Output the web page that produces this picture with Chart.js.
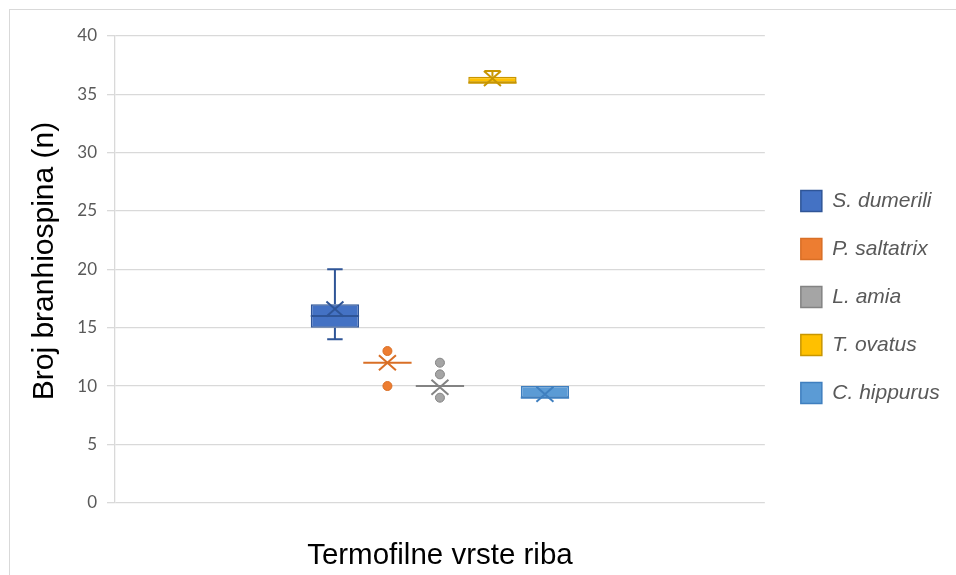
<!DOCTYPE html>
<html><head><meta charset="utf-8">
<script src="https://cdn.jsdelivr.net/npm/chart.js@4/dist/chart.umd.min.js"></script>
<style>
html,body{margin:0;padding:0;background:#fff;}
#wrap{position:relative;width:956px;height:575px;overflow:hidden;background:#fff;}
#frame{position:absolute;left:9px;top:9px;width:1200px;height:1200px;border:1px solid #d9d9d9;box-sizing:border-box;}
#c{position:absolute;left:0;top:0;}
</style></head><body>
<div id="wrap"><div id="frame"></div><canvas id="c" width="956" height="575"></canvas></div>
<script>
const categories = ['S. dumerili', 'P. saltatrix', 'L. amia', 'T. ovatus', 'C. hippurus'];
const minValues = [14, 12, 10, 36, 9];
const q1Values = [15, 12, 10, 36, 9];
const medianValues = [16, 12, 10, 36, 9];
const q3Values = [17, 12, 10, 36.5, 10];
const maxValues = [20, 12, 10, 37, 10];
const meanValues = [16.6, 12, 9.9, 36.35, 9.3];
const outlierValues = [[], [13, 10], [12, 11, 9], [], []];
const yTicks = [0, 5, 10, 15, 20, 25, 30, 35, 40];
const xLabels = [''];
const xAxisTitle = 'Termofilne vrste riba';
const yAxisTitle = 'Broj branhiospina (n)';

const fillColors = ['#4472C4', '#ED7D31', '#A5A5A5', '#FFC000', '#5B9BD5'];
const lineColors = ['#2F5597', '#D96F26', '#838383', '#C89600', '#3F7FBF'];

const datasets = categories.map((name, i) => ({
  label: name,
  data: [[q1Values[i], q3Values[i]]],
  backgroundColor: fillColors[i],
  borderColor: lineColors[i],
  borderWidth: 1.5,
  borderSkipped: false,
  categoryPercentage: 0.404,
  barPercentage: 0.92
}));

const boxPlugin = {
  id: 'boxWhisker',
  afterDatasetsDraw(chart) {
    const ctx = chart.ctx;
    const ys = chart.scales.y;
    chart.data.datasets.forEach((ds, i) => {
      const el = chart.getDatasetMeta(i).data[0];
      if (!el) return;
      const x = el.x, w = el.width;
      const capHalf = w * 0.16;
      const yq1 = ys.getPixelForValue(q1Values[i]);
      const yq3 = ys.getPixelForValue(q3Values[i]);
      const ymin = ys.getPixelForValue(minValues[i]);
      const ymax = ys.getPixelForValue(maxValues[i]);
      const ymed = ys.getPixelForValue(medianValues[i]);
      const ymean = ys.getPixelForValue(meanValues[i]);
      ctx.save();
      ctx.strokeStyle = lineColors[i];
      ctx.lineWidth = 2;
      ctx.beginPath();
      if (maxValues[i] > q3Values[i]) {
        ctx.moveTo(x, yq3); ctx.lineTo(x, ymax);
        ctx.moveTo(x - capHalf, ymax); ctx.lineTo(x + capHalf, ymax);
      }
      if (minValues[i] < q1Values[i]) {
        ctx.moveTo(x, yq1); ctx.lineTo(x, ymin);
        ctx.moveTo(x - capHalf, ymin); ctx.lineTo(x + capHalf, ymin);
      }
      ctx.moveTo(x - w / 2, ymed); ctx.lineTo(x + w / 2, ymed);
      ctx.stroke();
      const mx = 8.5, my = 7.5;
      ctx.beginPath();
      ctx.moveTo(x - mx, ymean - my); ctx.lineTo(x + mx, ymean + my);
      ctx.moveTo(x - mx, ymean + my); ctx.lineTo(x + mx, ymean - my);
      ctx.stroke();
      ctx.lineWidth = 1;
      outlierValues[i].forEach(v => {
        const oy = ys.getPixelForValue(v);
        ctx.beginPath();
        ctx.arc(x, oy, 4.5, 0, Math.PI * 2);
        ctx.fillStyle = fillColors[i];
        ctx.fill();
        ctx.stroke();
      });
      ctx.restore();
    });
  }
};

new Chart(document.getElementById('c'), {
  type: 'bar',
  data: { labels: xLabels, datasets },
  plugins: [boxPlugin],
  options: {
    responsive: false,
    animation: false,
    layout: { padding: { top: 19, bottom: 0, left: 10, right: 9 } },
    plugins: {
      tooltip: { enabled: false },
      legend: {
        position: 'right',
        title: { display: true, text: '', font: { size: 10, lineHeight: 1 }, padding: { top: 0, bottom: 7 } },
        labels: {
          boxWidth: 21, boxHeight: 21, padding: 10,
          color: '#595959',
          font: { family: 'Liberation Sans', size: 21, style: 'italic', lineHeight: 38 / 21 },
          generateLabels(chart) {
            const items = Chart.defaults.plugins.legend.labels.generateLabels(chart);
            items.forEach(it => { it.text = [it.text]; });
            return items;
          }
        }
      }
    },
    scales: {
      x: {
        type: 'category',
        grid: { display: false, drawTicks: false },
        border: { display: false },
        ticks: { display: false },
        title: {
          display: true, text: xAxisTitle, color: '#000',
          font: { family: 'Liberation Sans', size: 29.5 },
          padding: { top: 35.3, bottom: 1.6 }
        }
      },
      x2: {
        type: 'linear', position: 'top', display: true,
        grid: { display: false, drawTicks: false }, border: { display: false }, ticks: { display: false },
        afterFit(s) { s.height = 17; }
      },
      y: {
        min: 0, max: 40,
        afterBuildTicks(s) { s.ticks = yTicks.map(v => ({ value: v })); },
        grid: { color: '#d9d9d9', lineWidth: 1.3, tickLength: 8, drawTicks: true },
        border: { color: '#d9d9d9', width: 1.3 },
        ticks: { color: '#595959', padding: 10, font: { family: 'Lato', size: 17 } },
        title: {
          display: true, text: '  ' + yAxisTitle, color: '#000',
          font: { family: 'Liberation Sans', size: 30 },
          padding: { top: 17, bottom: 4.3 }
        }
      },
      y2: {
        type: 'linear', position: 'right', display: true,
        grid: { display: false, drawTicks: false }, border: { display: false }, ticks: { display: false },
        afterFit(s) { s.width = 26; }
      }
    }
  }
});
</script>
</body></html>
